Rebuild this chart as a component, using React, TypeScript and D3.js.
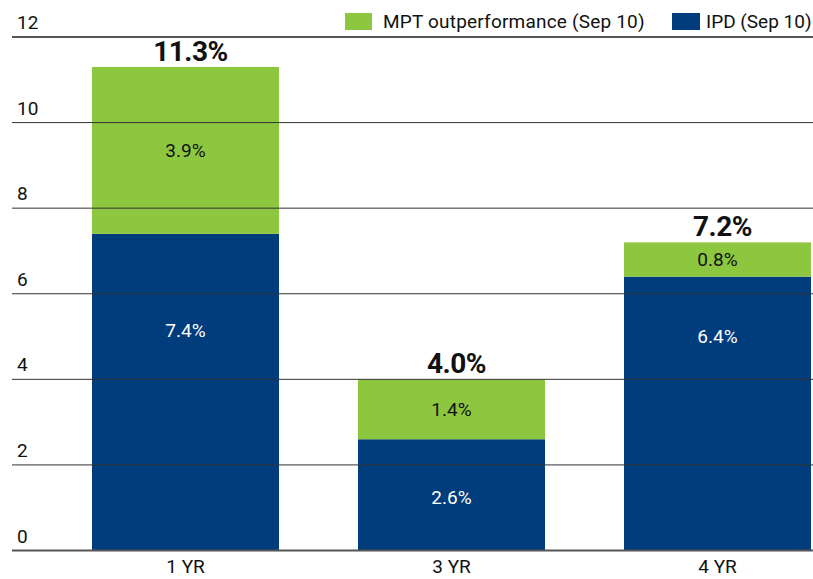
import React from "react";
import * as d3 from "d3";

const categories = ["1 YR", "3 YR", "4 YR"];
const ipd = [7.4, 2.6, 6.4];
const mpt = [3.9, 1.4, 0.8];
const totals = ["11.3%", "4.0%", "7.2%"];
const yTicks = [0, 2, 4, 6, 8, 10, 12];
const seriesNames = ["MPT outperformance (Sep 10)", "IPD (Sep 10)"];

const W = 813;
const H = 579;
const GREEN = "#8dc63f";
const BLUE = "#013d7c";
const FONT = "Roboto, 'Open Sans', sans-serif";

// label anchor (data units) for the blue segment labels
const ipdLabelAt = [5.15, 1.25, 5.0];

export default function App() {
  const y = d3.scaleLinear().domain([0, 12]).range([550.5, 37]);
  const x = d3.scaleBand<string>().domain(categories).range([92, 811]).paddingInner(0.297).paddingOuter(0);
  const bw = x.bandwidth();

  return (
    <svg width={W} height={H} style={{ position: "absolute", left: 0, top: 0, background: "#fff" }} fontFamily={FONT}>
      {categories.map((c, i) => {
        const x0 = x(c)!;
        const top = ipd[i] + mpt[i];
        return (
          <g key={c}>
            <rect x={x0} y={y(ipd[i])} width={bw} height={y(0) - y(ipd[i])} fill={BLUE} />
            <rect x={x0} y={y(top)} width={bw} height={y(ipd[i]) - y(top)} fill={GREEN} />
          </g>
        );
      })}
      {yTicks.map((t) => (
        <g key={t}>
          <line
            x1={12}
            x2={W}
            y1={y(t)}
            y2={y(t)}
            stroke={t === 0 || t === 12 ? "#555" : "#333"}
            strokeWidth={t === 0 || t === 12 ? 2 : 1}
          />
          <text x={17} y={y(t) - 8} fontSize={19} fill="#111">
            {t}
          </text>
        </g>
      ))}
      {categories.map((c, i) => {
        const cx = x(c)! + bw / 2;
        const top = ipd[i] + mpt[i];
        return (
          <g key={c + "l"}>
            <text x={cx} y={y(ipd[i] + mpt[i] / 2)} dy="0.35em" textAnchor="middle" fontSize={19} fill="#111">
              {mpt[i].toFixed(1)}%
            </text>
            <text x={cx} y={y(ipdLabelAt[i])} dy="0.35em" textAnchor="middle" fontSize={19} fill="#fff">
              {ipd[i].toFixed(1)}%
            </text>
            <text x={cx + 5} y={y(top) - 6} textAnchor="middle" fontSize={28} fontWeight="bold" fill="#111" letterSpacing={-0.5}>
              {totals[i]}
            </text>
            <text x={cx} y={573} textAnchor="middle" fontSize={19} fill="#111">
              {c}
            </text>
          </g>
        );
      })}
      <g>
        <rect x={345} y={13} width={27} height={17} fill={GREEN} />
        <text x={383} y={28} fontSize={19} fill="#111" letterSpacing={0.2}>
          {seriesNames[0]}
        </text>
        <rect x={672} y={13} width={28} height={17} fill={BLUE} />
        <text x={706} y={28} fontSize={19} fill="#111">
          {seriesNames[1]}
        </text>
      </g>
    </svg>
  );
}
